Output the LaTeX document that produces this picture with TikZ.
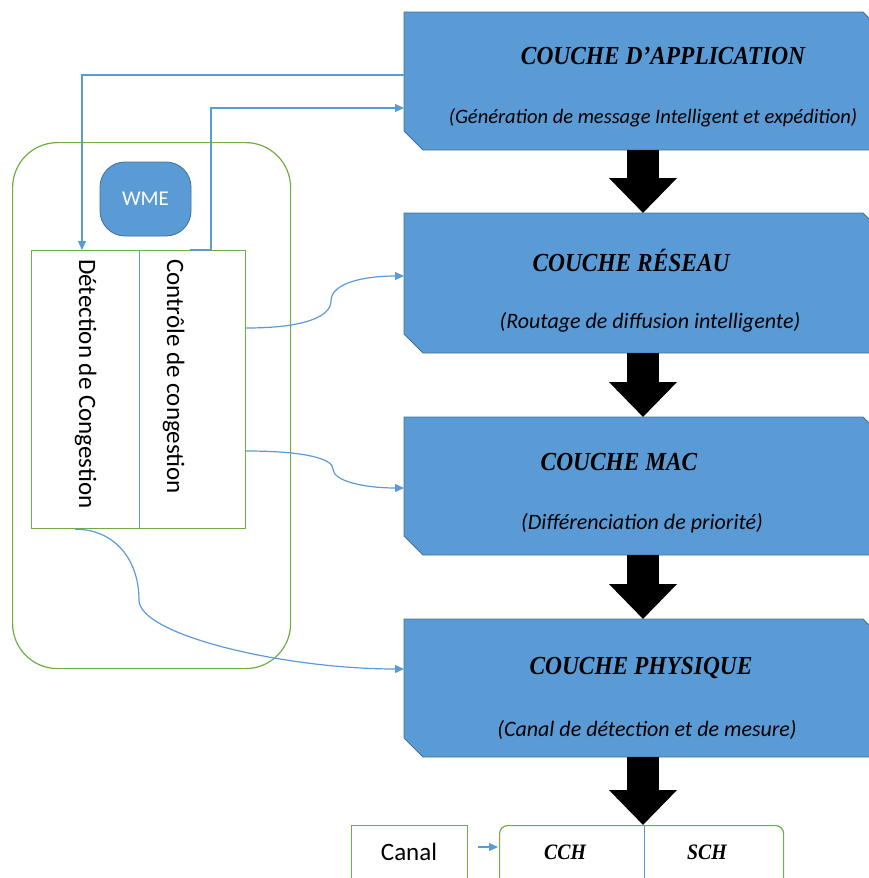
\documentclass[tikz,border=0pt]{standalone}
\usepackage{fontspec}
\setmainfont{Carlito}
\newfontfamily\titlefont{Liberation Serif}
\usetikzlibrary{arrows.meta,calc}

\definecolor{boxblue}{HTML}{5B9BD5}
\definecolor{boxedge}{HTML}{41719C}
\definecolor{linkblue}{HTML}{5B9BD5}
\definecolor{framegreen}{HTML}{70AD47}

% layer box: frame node plus a chamfered fill (top right and bottom left cut)
\newcommand\layerbox[4]{%
  \node[layerframe,minimum height=#4pt] (#1) at (#2,#3) {};
  \path[layerfill] (#1.north west) -- ($(#1.north east)+(-19,0)$)
    -- ($(#1.north east)+(0,19)$) -- (#1.south east)
    -- ($(#1.south west)+(19,0)$) -- ($(#1.south west)+(0,-19)$) -- cycle;
}

\begin{document}
\begin{tikzpicture}[x=1pt,y=-1pt,
  layerframe/.style={rectangle,anchor=north west,minimum width=478pt,inner sep=0pt,outer sep=0pt},
  layerfill/.style={fill=boxblue,draw=boxedge,line width=0.8pt},
  titletext/.style={font=\titlefont\bfseries\itshape\fontsize{26}{30}\selectfont,xscale=0.9,inner sep=0pt},
  subtext/.style={font=\itshape\fontsize{22}{26}\selectfont,inner sep=0pt},
  bigarrow/.style={line width=32pt,black,-{Triangle[length=35pt,width=66pt]}},
  link/.style={draw=linkblue,line width=1.2pt},
  linkarrow/.style={link,-{Triangle[length=9pt,width=8pt]},linkblue},
  greenframe/.style={draw=framegreen,line width=1.2pt},
  celltext/.style={font=\fontsize{25}{30}\selectfont,rotate=-90,anchor=base west,inner sep=0pt},
]
\useasboundingbox (0,0) rectangle (869,878);

% protocol layers
\layerbox{app}{404}{12}{138}
\layerbox{net}{404}{213}{140}
\layerbox{mac}{404}{417}{138}
\layerbox{phy}{404}{619}{138}

\node[titletext] (appT) at (663,56) {COUCHE D’APPLICATION};
\node[subtext,font=\itshape\fontsize{20.5}{24}\selectfont] (appS) at (653,118) {(Génération de message Intelligent et expédition)};
\node[titletext] (netT) at (631,260) {COUCHE RÉSEAU};
\node[subtext]   (netS) at (650,322) {(Routage de diffusion intelligente)};
\node[titletext] (macT) at (619,462) {COUCHE MAC};
\node[subtext]   (macS) at (642,523) {(Différenciation de priorité)};
\node[titletext] (phyT) at (641,668) {COUCHE PHYSIQUE};
\node[subtext]   (phyS) at (647,730) {(Canal de détection et de mesure)};

% channel boxes
\node[greenframe,rectangle,anchor=north west,minimum width=116pt,minimum height=80pt,inner sep=0pt] (canal) at (351,825) {};
\node[font=\fontsize{25}{30}\selectfont,inner sep=0pt] (canalT) at (409,852) {Canal};
\node[greenframe,rectangle,rounded corners=8pt,anchor=north west,minimum width=284pt,minimum height=80pt,inner sep=0pt] (chan) at (499,825) {};
\draw[link] ($(chan.north)+(3,0)$) -- ($(chan.south)+(3,0)$);
\node[titletext,font=\titlefont\bfseries\itshape\fontsize{22}{26}\selectfont] (cch) at (565,852) {CCH};
\node[titletext,font=\titlefont\bfseries\itshape\fontsize{22}{26}\selectfont] (sch) at (707,852) {SCH};
\draw[linkarrow] ($(canal.north east)+(10,22)$) -- ($(chan.north west)+(-1,22)$);

% downward flow between layers
\draw[bigarrow] (app.south) -- (net.north);
\draw[bigarrow] (net.south) -- (mac.north);
\draw[bigarrow] (mac.south) -- (phy.north);
\draw[bigarrow] (phy.south) -- (phy.south |- chan.north);

% WME block
\node[greenframe,rectangle,rounded corners=45pt,anchor=north west,minimum width=278pt,minimum height=526pt,inner sep=0pt] (wme) at (12,142) {};
\node[fill=boxblue,draw=boxedge,line width=0.8pt,rounded corners=25pt,minimum width=91pt,minimum height=74pt,inner sep=0pt,text=white,font=\fontsize{21}{25}\selectfont] (wmeT) at (145.5,199) {WME};
\node[greenframe,rectangle,anchor=north west,minimum width=214pt,minimum height=278pt,inner sep=0pt] (inner) at (31,250) {};
\draw[link] ($(inner.north)+(1,0)$) -- ($(inner.south)+(1,0)$);
\node[celltext] (det) at (79,259) {Détection de Congestion};
\node[celltext] (ctl) at (167,259) {Contrôle de congestion};

% control links
\coordinate (c1) at ($(app.north west)+(0,63)$);
\coordinate (dIn) at ($(inner.north west)+(51,0)$);
\draw[linkarrow] (c1) -| (dIn);

\coordinate (cOut) at ($(inner.north west)+(159,0)$);
\coordinate (cUp) at ($(inner.north west)+(180,0)$);
\coordinate (appIn) at ($(app.north west)+(0,96)$);
\draw[linkarrow] (cOut) -- (cUp) |- (appIn);

\coordinate (s3) at ($(inner.north east)+(0,78)$);
\coordinate (b3) at (331,301);
\coordinate (e3) at ($(net.north west)+(0,63)$);
\draw[linkarrow] (s3) .. controls +(60,0) and +(0,15) .. (b3) .. controls +(0,-18) and +(-40,0) .. (e3);

\coordinate (s4) at ($(inner.north east)+(0,201)$);
\coordinate (b4) at (333,469);
\coordinate (e4) at ($(mac.north west)+(0,71)$);
\draw[linkarrow] (s4) .. controls +(60,0) and +(0,-10) .. (b4) .. controls +(0,12) and +(-40,0) .. (e4);

\coordinate (s5) at ($(inner.south west)+(44,0)$);
\coordinate (b5) at (139,600);
\coordinate (e5) at ($(phy.north west)+(0,50)$);
\draw[linkarrow] (s5) .. controls +(40,0) and +(0,-40) .. (b5) .. controls +(0,35) and +(-120,0) .. (e5);
\end{tikzpicture}
\end{document}
